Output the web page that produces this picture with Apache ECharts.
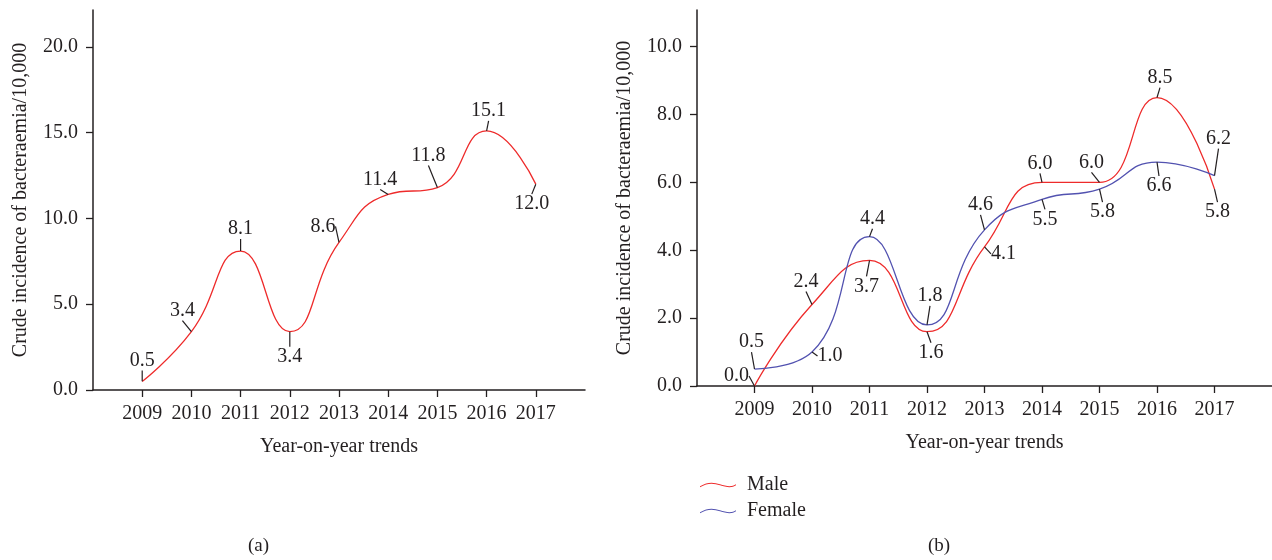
<!DOCTYPE html>
<html><head><meta charset="utf-8">
<script src="https://cdn.jsdelivr.net/npm/echarts@6/dist/echarts.min.js"></script>
<style>html,body{margin:0;padding:0;background:#fff}#c{width:1272px;height:560px}</style>
</head><body><div id="c"></div>
<script>
var years = [2009, 2010, 2011, 2012, 2013, 2014, 2015, 2016, 2017];
var totalValues = [0.5, 3.4, 8.1, 3.4, 8.6, 11.4, 11.8, 15.1, 12.0];
var maleValues = [0.0, 2.4, 3.7, 1.6, 4.1, 6.0, 6.0, 8.5, 5.8];
var femaleValues = [0.5, 1.0, 4.4, 1.8, 4.6, 5.5, 5.8, 6.6, 6.2];
var leftTicks = [0, 5, 10, 15, 20];
var rightTicks = [0, 2, 4, 6, 8, 10];
var seriesNames = ['Male', 'Female'];
var yName = 'Crude incidence of bacteraemia/10,000';
var xName = 'Year-on-year trends';

// label placement offsets (px) relative to each point
var totalShift = [[0,-21],[-9,-21],[0,-22],[0,25],[-16,-16],[-8,-15],[-9,-32],[2,-20],[-4,20]];
var maleShift = [[-18,-10],[-6,-23],[-3,26],[4,21],[19,7],[-2,-19],[-8,-20],[3,-20],[3,23]];
var femaleShift = [[-3,-27],[18,4],[3,-18],[3,-29],[-4,-25],[3,20],[3,23],[2,24],[4,-37]];

var FONT = 'Liberation Serif';
var TXT = '#231f20';
var FS = 20;
var RED = '#ee2b2b';
var BLUE = '#5252b0';

function pairs(vals){ return years.map(function(y,i){ return [y, vals[i]]; }); }

function xAxis(idx){
  return {
    type: 'value', gridIndex: idx, min: 2008, max: 2018,
    name: xName, nameLocation: 'middle', nameGap: 47,
    nameTextStyle: {fontFamily: FONT, fontSize: FS, color: TXT},
    axisLine: {lineStyle: {color: TXT, width: 1.5}},
    axisTick: {show: true, length: 7, customValues: years, lineStyle: {color: TXT, width: 1.3}},
    axisLabel: {customValues: years, margin: 14, fontFamily: FONT, fontSize: FS, color: TXT,
      formatter: function(v){ return String(v); }},
    splitLine: {show: false}
  };
}
function yAxis(idx, max, ticks){
  return {
    type: 'value', gridIndex: idx, min: 0, max: max,
    name: yName, nameLocation: 'middle', nameGap: 62, nameRotate: 90,
    nameTextStyle: {fontFamily: FONT, fontSize: FS, color: TXT},
    axisLine: {show: true, lineStyle: {color: TXT, width: 1.5}},
    axisTick: {show: true, length: 7, customValues: ticks, lineStyle: {color: TXT, width: 1.3}},
    axisLabel: {customValues: ticks, margin: 15, fontFamily: FONT, fontSize: FS, color: TXT,
      formatter: function(v){ return v.toFixed(1); }},
    splitLine: {show: false}
  };
}
function lineSeries(name, idx, vals, color, shift){
  return {
    name: name, type: 'line', xAxisIndex: idx, yAxisIndex: idx,
    data: pairs(vals), smooth: 0.5,
    symbol: 'circle', symbolSize: 0.1, showSymbol: true,
    itemStyle: {color: color},
    lineStyle: {color: color, width: 1.3},
    label: {show: true, position: 'inside', fontFamily: FONT, fontSize: FS, color: TXT,
      formatter: function(p){ return p.value[1].toFixed(1); }},
    labelLine: {show: true, lineStyle: {color: TXT, width: 1.2}},
    labelLayout: function(p){ var s = shift[p.dataIndex]; return {dx: s[0], dy: s[1]}; },
    emphasis: {disabled: true}
  };
}

var chart = echarts.init(document.getElementById('c'), null, {renderer: 'canvas'});
chart.setOption({
  animation: false,
  backgroundColor: '#fff',
  grid: [
    {left: 93, top: 10, width: 492, height: 380, containLabel: false},
    {left: 697, top: 10, width: 577, height: 376, containLabel: false}
  ],
  xAxis: [xAxis(0), xAxis(1)],
  yAxis: [yAxis(0, 22.15, leftTicks), yAxis(1, 11.08, rightTicks)],
  legend: {
    show: true, orient: 'vertical', left: 695, top: 470,
    data: seriesNames, itemWidth: 36, itemHeight: 7, itemGap: 6,
    icon: 'path://M0,5 C8,0 14,1 20,3 C26,5 32,6 36,3 L36,4 C32,7 26,6 20,4 C14,2 8,1 0,6 Z',
    textStyle: {fontFamily: FONT, fontSize: FS, color: TXT, padding: [0,0,0,6]}
  },
  series: [
    lineSeries('Total', 0, totalValues, RED, totalShift),
    lineSeries(seriesNames[0], 1, maleValues, RED, maleShift),
    lineSeries(seriesNames[1], 1, femaleValues, BLUE, femaleShift)
  ],
  graphic: [
    {type: 'text', left: 248, top: 537, style: {text: '(a)', font: '19px "Liberation Serif"', fill: TXT}},
    {type: 'text', left: 928, top: 537, style: {text: '(b)', font: '19px "Liberation Serif"', fill: TXT}}
  ]
});
</script></body></html>
